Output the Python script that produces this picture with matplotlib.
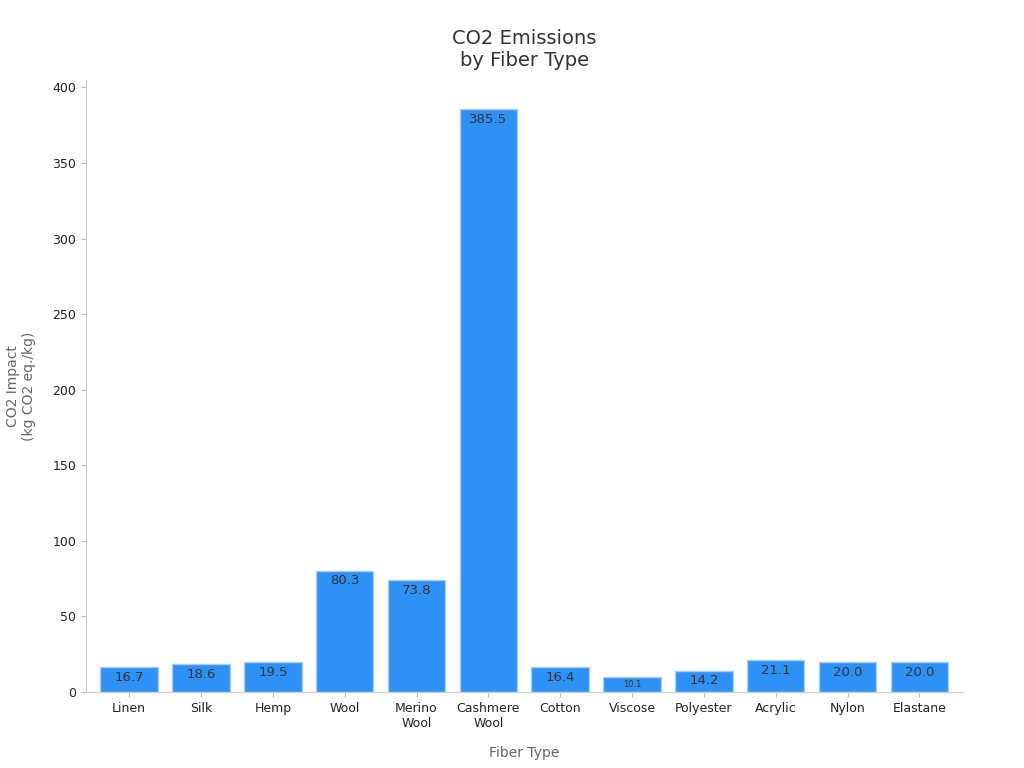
import matplotlib.pyplot as plt

fibers = ["Linen", "Silk", "Hemp", "Wool", "Merino\nWool", "Cashmere\nWool", "Cotton",
          "Viscose", "Polyester", "Acrylic", "Nylon", "Elastane"]
co2 = [16.7, 18.6, 19.5, 80.3, 73.8, 385.5, 16.4, 10.1, 14.2, 21.1, 20.0, 20.0]

fig = plt.figure(figsize=(10.24, 7.68), dpi=100)
ax = fig.add_axes([0.084, 0.099, 0.856, 0.797])

x = range(len(fibers))
bars = ax.bar(x, co2, width=0.8, color="#2E91F5", edgecolor="#A9CCF0", linewidth=1)

for xi, v in zip(x, co2):
    small = v < 12
    ax.text(xi, v - 2.5, f"{v:.1f}", ha="center", va="top",
            fontsize=6 if small else 9.5, color="#333333")

ax.set_xlim(-0.6, len(fibers) - 0.4)
ax.set_ylim(0, 405)
ax.set_xticks(list(x))
ax.set_xticklabels(fibers, fontsize=9, color="#222222")
ax.tick_params(axis="y", labelsize=9, colors="#222222")
ax.tick_params(axis="both", color="#bbbbbb")
for s in ["top", "right"]:
    ax.spines[s].set_visible(False)
for s in ["left", "bottom"]:
    ax.spines[s].set_color("#cccccc")

ax.set_xlabel("Fiber Type", fontsize=10, color="#666666", labelpad=12)
ax.set_ylabel("CO2 Impact\n(kg CO2 eq./kg)", fontsize=10, color="#666666", labelpad=12)
ax.set_title("CO2 Emissions\nby Fiber Type", fontsize=14, color="#333333", pad=10)

fig.savefig("out.png", dpi=100)
